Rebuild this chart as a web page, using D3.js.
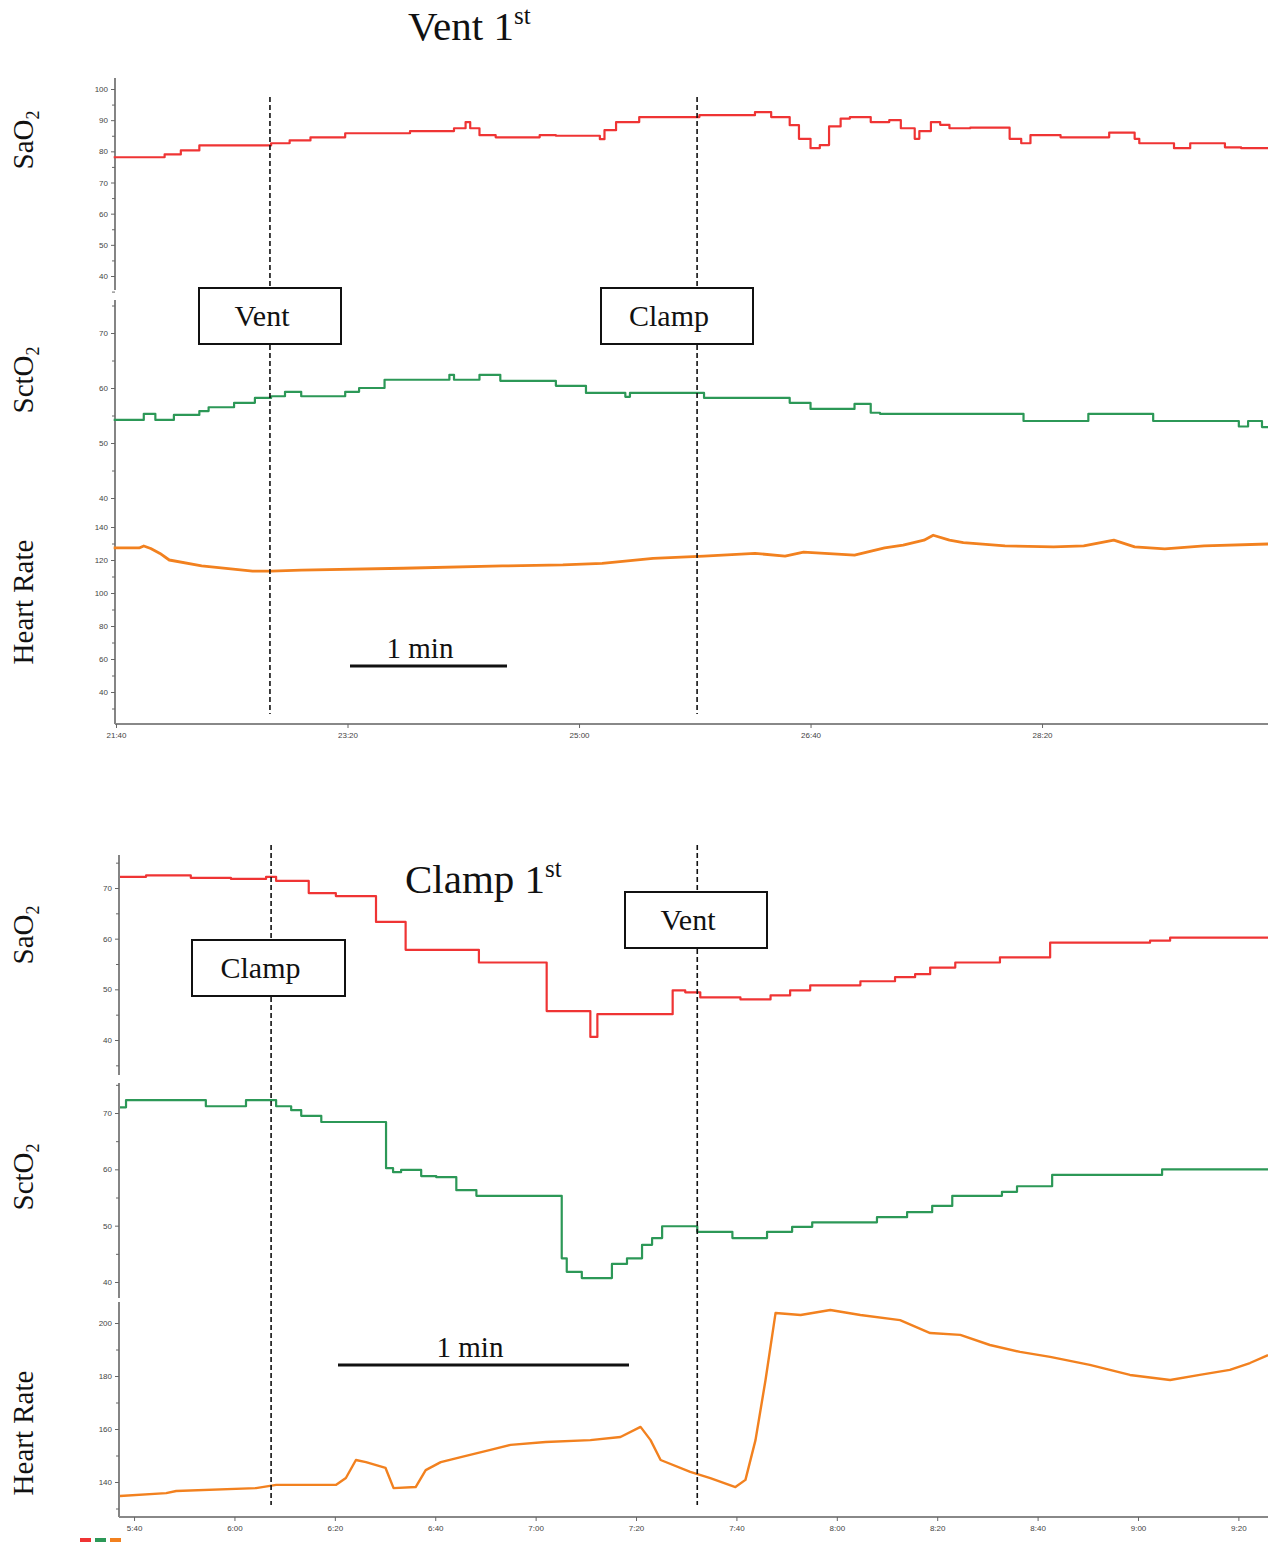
<!DOCTYPE html>
<html>
<head>
<meta charset="utf-8">
<script src="https://cdn.jsdelivr.net/npm/d3@7"></script>
<style>
  body { margin: 0; background: #fff; }
  svg { display: block; }
  .tick text { font-family: "Liberation Sans", Arial, sans-serif; font-size: 8px; fill: #444; }
  .tick line, .domain { stroke: #666; }
  .serif { font-family: "Liberation Serif", "Times New Roman", serif; fill: #111; }
</style>
</head>
<body>
<svg id="chart" width="1268" height="1542"></svg>
<script>
// ---------- data (time in seconds, value) ----------
// "Vent 1st" recording, 21:40 .. ~29:58
var topSaO2T = [1299,1321,1328,1336,1367,1375,1384,1399,1427,1446,1451,1453,1457,1464,1483,1490,1509,1511,1516,1526,1552,1576,1583,1591,1595,1600,1604,1608,1613,1617,1626,1634,1639,1645,1647,1652,1656,1660,1669,1686,1691,1695,1708,1716,1729,1740,1742,1757,1764,1768,1779,1786,1798];
var topSaO2V = [78.1,79,80.3,81.9,82.6,83.5,84.5,85.8,86.5,87.4,89.4,87.4,85.2,84.5,85.2,85,83.9,86.8,89.4,91,91.6,92.6,91,88.4,84,81,82,88,90.5,91,89.4,90,87.4,84,86.5,89.4,88.5,87.4,87.6,84,82.6,85.2,84.5,84.5,86,84,82.6,81,82.6,82.6,81.3,81,81];

var topSctO2T = [1299,1312,1317,1325,1336,1340,1351,1360,1367,1373,1380,1399,1405,1416,1444,1446,1448,1457,1466,1490,1503,1520,1522,1524,1554,1591,1600,1619,1626,1630,1634,1692,1720,1748,1785,1789,1795,1798];
var topSctO2V = [54.2,55.3,54.2,55.1,55.8,56.5,57.3,58.2,58.5,59.3,58.5,59.3,60,61.5,62.4,61.5,61.5,62.4,61.3,60.4,59.1,58.4,59.1,59.1,58.2,57.3,56.2,57.1,55.5,55.3,55.3,54,55.3,54,53,54,52.9,52.9];

var topHRT = [1299,1310,1312,1315,1319,1323,1337,1359,1367,1380,1424,1467,1493,1510,1532,1554,1576,1589,1597,1619,1632,1640,1649,1653,1660,1666,1684,1705,1718,1731,1740,1753,1770,1798];
var topHRV = [127.3,127.3,128.5,127,124,120,116.4,113.3,113.3,113.9,115,116.4,117,118,121,122.4,124,122.4,124.8,123,127.3,129,132,135,132,130.5,128.5,128,128.5,132,128,126.7,128.5,129.7];

// "Clamp 1st" recording, ~5:37 .. ~9:26
var botSaO2T = [337.2,342.4,351.3,359.3,366.3,368.3,374.8,380.2,388.2,394.1,408.7,422.2,430.9,432.3,447.3,449.8,452.8,460.8,466.8,470.7,474.7,484.7,491.6,495.6,498.6,503.6,512.5,522.5,542.4,546.4,565.9];
var botSaO2V = [72.2,72.5,72,71.8,72.2,71.4,69,68.4,63.3,57.8,55.3,45.7,40.6,45.1,49.8,49.4,48.4,48,48.8,49.8,50.8,51.6,52.4,53,54.3,55.3,56.3,59.2,59.6,60.2,60.2];

var botSctO2T = [337.2,338.4,354.3,362.3,368.3,371.3,373.3,377.3,390.2,391.6,393.2,397.2,400.2,404.2,408.2,425.2,426.2,429.2,435.2,438.2,441.2,443.2,445.2,452.2,459.2,466.1,471.1,475.1,488.0,494.0,499.0,503.0,512.9,515.9,522.9,544.8,565.9];
var botSctO2V = [71,72.3,71.2,72.3,71.2,70.5,69.5,68.4,60.2,59.5,59.9,58.8,58.6,56.3,55.3,44.2,41.8,40.7,43.2,44.2,46.6,47.8,49.9,48.9,47.8,48.9,49.8,50.6,51.5,52.4,53.5,55.3,56,57,59,60,60];

var botHRT = [337.2,346.4,348.4,364.3,368.3,380.2,382.2,384.2,386.2,390.1,391.7,396.1,398.1,401.1,405.1,411.0,415.0,422.0,430.9,436.9,440.9,442.9,444.9,450.8,454.8,459.8,461.8,463.8,465.8,467.8,472.8,478.7,484.7,492.6,498.6,504.6,510.5,516.5,522.5,530.4,538.4,546.4,552.3,558.3,562.3,565.9];
var botHRV = [134.7,135.8,136.6,137.7,138.9,138.9,141.5,148.3,147.5,145.3,137.7,138.1,144.5,147.5,149.4,152.1,154,155.1,155.8,157,160.8,155.8,148.3,143.8,141.5,138.1,140.8,155.8,178.5,203.8,203,204.9,203,201.1,196.2,195.5,191.7,189.1,187.2,184.2,180.4,178.5,180.4,182.3,184.9,187.9];

var topTicks = [1300, 1400, 1500, 1600, 1700];
var botTicks = [340, 360, 380, 400, 420, 440, 460, 480, 500, 520, 540, 560];

var colors = { sao2: "#ef3434", scto2: "#2c9857", hr: "#f2811f" };
var legendColors = ["#ef3434", "#2c9857", "#f2811f"];

function fmtTime(t) {
	var m = Math.floor(t / 60), s = t % 60;
	return m + ":" + (s < 10 ? "0" : "") + s;
}

function zip(t, v) { return t.map(function(d, i) { return [d, v[i]]; }); }

var svg = d3.select("#chart");

// rotated label with subscript 2
function yLabel(x, y, main, sub) {
	var t = svg.append("text").attr("class", "serif")
	  .attr("transform", "translate(" + x + "," + y + ") rotate(-90)")
	  .attr("text-anchor", "middle")
	  .style("font-size", "29px");
	t.append("tspan").text(main);
	if (sub) {
		t.append("tspan").attr("dy", 6).style("font-size", "18px").text(sub);
	}
}

function drawPanel(x, p) {
	var y = d3.scaleLinear().domain(p.domain).range(p.range);
	var axis = d3.axisLeft(y).tickValues(p.ticks).tickSize(4).tickPadding(3);
	var minor = d3.axisLeft(y).tickValues(p.minor).tickSize(3).tickFormat("");
	var xa = x.range()[0] - 1;
	var g = svg.append("g").attr("transform", "translate(" + xa + ",0)");
	g.append("line").attr("x1", 0).attr("x2", 0)
	  .attr("y1", p.extent[0]).attr("y2", p.extent[1])
	  .attr("stroke", "#666").attr("stroke-width", 1.6);
	g.append("g").call(axis).call(function(s){ s.select(".domain").remove(); });
	g.append("g").call(minor).call(function(s){ s.select(".domain").remove(); });

	var line = d3.line()
	  .x(function(d){ return x(d[0]); })
	  .y(function(d){ return y(d[1]); })
	  .curve(p.step ? d3.curveStepAfter : d3.curveLinear);
	svg.append("path")
	  .datum(p.data)
	  .attr("d", line)
	  .attr("fill", "none")
	  .attr("stroke", p.color)
	  .attr("stroke-width", p.width || 2.2)
	  .attr("stroke-linejoin", "round");
}

function drawChart(c) {
	var x = d3.scaleLinear().domain(c.xDomain).range([c.x0, 1268]);
	c.panels.forEach(function(p){ drawPanel(x, p); });

	// x axis
	var xg = svg.append("g").attr("transform", "translate(0," + c.xAxisY + ")");
	xg.append("line").attr("x1", c.x0 - 1).attr("x2", 1268)
	  .attr("stroke", "#888").attr("stroke-width", 2);
	xg.append("g").call(d3.axisBottom(x).tickValues(c.ticks).tickSize(4).tickPadding(4).tickFormat(fmtTime))
	  .call(function(s){ s.select(".domain").remove(); });

	// event lines
	c.events.forEach(function(e){
		svg.append("line")
		  .attr("x1", x(e.t)).attr("x2", x(e.t))
		  .attr("y1", c.dashY[0]).attr("y2", c.dashY[1])
		  .attr("stroke", "#111").attr("stroke-width", 1.6)
		  .attr("stroke-dasharray", "5,3");
	});
	c.boxes.forEach(function(b){
		svg.append("rect").attr("x", b.x).attr("y", b.y).attr("width", b.w).attr("height", 56)
		  .attr("fill", "#fff").attr("stroke", "#111").attr("stroke-width", 2);
		svg.append("text").attr("class", "serif")
		  .attr("x", b.x + b.w / 2 - 8).attr("y", b.y + 38)
		  .attr("text-anchor", "middle").style("font-size", "30px").text(b.label);
	});

	// title
	var tt = svg.append("text").attr("class", "serif")
	  .attr("x", c.title.x).attr("y", c.title.y).style("font-size", "41px");
	tt.append("tspan").text(c.title.text);
	tt.append("tspan").attr("dy", -16).style("font-size", "25px").text("st");

	// scale bar
	svg.append("line").attr("x1", c.bar.x1).attr("x2", c.bar.x2)
	  .attr("y1", c.bar.y).attr("y2", c.bar.y)
	  .attr("stroke", "#111").attr("stroke-width", 3);
	svg.append("text").attr("class", "serif")
	  .attr("x", c.bar.tx).attr("y", c.bar.y - 8)
	  .attr("text-anchor", "middle").style("font-size", "29px").text("1 min");

	c.labels.forEach(function(l){ yLabel(33, l.y, l.main, l.sub); });
}

drawChart({
	xDomain: [1300, 1797.6], x0: 116, xAxisY: 724, ticks: topTicks,
	dashY: [97, 714],
	events: [{ t: 1366.5 }, { t: 1551 }],
	boxes: [{ x: 199, y: 288, w: 142, label: "Vent" }, { x: 601, y: 288, w: 152, label: "Clamp" }],
	title: { x: 408, y: 40, text: "Vent 1" },
	bar: { x1: 350, x2: 507, y: 666, tx: 420 },
	labels: [{ y: 140, main: "SaO", sub: "2" }, { y: 380, main: "SctO", sub: "2" }, { y: 602, main: "Heart Rate" }],
	panels: [
		{ domain: [40, 100], range: [276, 89], ticks: [40,50,60,70,80,90,100], minor: [35,45,55,65,75,85,95],
		  extent: [78, 290], data: zip(topSaO2T, topSaO2V), color: colors.sao2, step: true },
		{ domain: [40, 70], range: [498, 333], ticks: [40,50,60,70], minor: [45,55,65,75],
		  extent: [300, 512], data: zip(topSctO2T, topSctO2V), color: colors.scto2, step: true },
		{ domain: [40, 140], range: [692, 527], ticks: [40,60,80,100,120,140], minor: [30,50,70,90,110,130],
		  extent: [512, 724], data: zip(topHRT, topHRV), color: colors.hr, width: 2.8 }
	]
});

drawChart({
	xDomain: [337.2, 565.9], x0: 120, xAxisY: 1517, ticks: botTicks,
	dashY: [845, 1505],
	events: [{ t: 367.3 }, { t: 452.2 }],
	boxes: [{ x: 192, y: 940, w: 153, label: "Clamp" }, { x: 625, y: 892, w: 142, label: "Vent" }],
	title: { x: 405, y: 893, text: "Clamp 1" },
	bar: { x1: 338, x2: 629, y: 1365, tx: 470 },
	labels: [{ y: 935, main: "SaO", sub: "2" }, { y: 1177, main: "SctO", sub: "2" }, { y: 1433, main: "Heart Rate" }],
	panels: [
		{ domain: [40, 70], range: [1040, 888], ticks: [40,50,60,70], minor: [35,45,55,65,75],
		  extent: [855, 1075], data: zip(botSaO2T, botSaO2V), color: colors.sao2, step: true },
		{ domain: [40, 70], range: [1282, 1113], ticks: [40,50,60,70], minor: [45,55,65,75],
		  extent: [1083, 1298], data: zip(botSctO2T, botSctO2V), color: colors.scto2, step: true },
		{ domain: [140, 200], range: [1482, 1323], ticks: [140,160,180,200], minor: [130,150,170,190],
		  extent: [1302, 1517], data: zip(botHRT, botHRV), color: colors.hr, width: 2.4 }
	]
});

// stray legend swatches at the bottom edge
svg.selectAll(".swatch").data(legendColors).enter().append("rect")
  .attr("x", function(d, i){ return 80 + i * 15; }).attr("y", 1538)
  .attr("width", 11).attr("height", 4).attr("fill", function(d){ return d; });
</script>
</body>
</html>
